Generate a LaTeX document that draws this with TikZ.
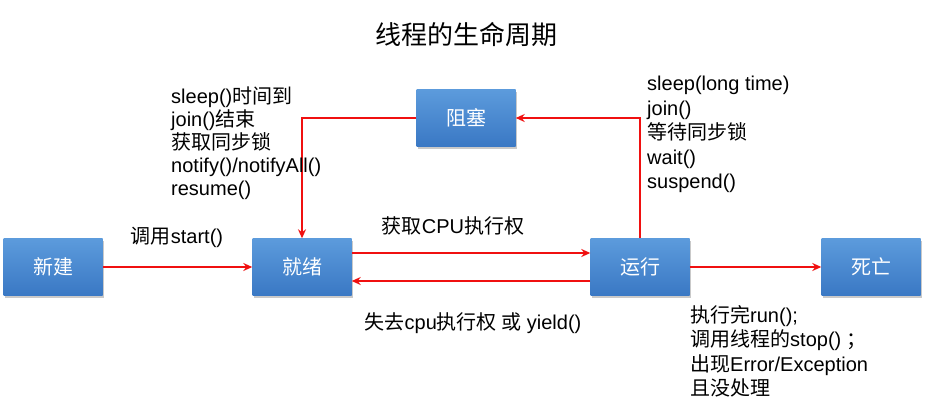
\documentclass[tikz,border=0pt]{standalone}
\usepackage{fontspec}
\setmainfont{Liberation Sans}
\newfontfamily\cjk{Noto Sans CJK SC}
\newcommand{\zh}[1]{{\cjk #1}}
\usetikzlibrary{arrows.meta,shadows}
\definecolor{boxtop}{HTML}{5C9BDC}
\definecolor{boxbot}{HTML}{3A78C4}
\definecolor{arrowred}{HTML}{F01010}
\begin{document}
\begin{tikzpicture}[x=1pt,y=-1pt,
  state/.style={minimum width=99pt,minimum height=57pt,inner sep=0pt,
    top color=boxtop,bottom color=boxbot,draw=none,text=white,
    font=\fontsize{20}{20}\cjk,
    drop shadow={shadow xshift=1.5pt,shadow yshift=-2pt,opacity=0.35,fill=black!60}},
  conn/.style={draw=arrowred,line width=1.6pt,-{Stealth[length=9pt,width=8pt]}},
  lbl/.style={font=\fontsize{20}{24.5}\selectfont,text=black,inner sep=0pt},
  blk/.style={lbl,align=left,anchor=north west}]
\useasboundingbox[fill=white] (0,0) rectangle (934,415);
\node[font=\fontsize{26}{26}\cjk] (title) at (466,35) {线程的生命周期};

\node[state] (new) at (53,267) {新建};
\node[state] (ready) at (302,267) {就绪};
\node[state] (blocked) at (466,118) {阻塞};
\node[state] (run) at (640,267) {运行};
\node[state] (dead) at (871,267) {死亡};

\coordinate (c1) at (640,118);
\coordinate (c2) at (302,118);

\draw[conn] (new) -- (ready);
\draw[conn] (ready.east |- 0,253) -- (run.west |- 0,253);
\draw[conn] (run.west |- 0,281) -- (ready.east |- 0,281);
\draw[conn] (run) -- (dead);
\draw[conn] (run.north) -- (c1) -- (blocked.east);
\draw[conn] (blocked.west) -- (c2) -- (ready.north);

\node[lbl] (lstart) at (177,237) {\zh{调用}start()};
\node[lbl] (lget) at (453,226) {\zh{获取}CPU\zh{执行权}};
\node[lbl] (llose) at (473,323) {\zh{失去}cpu\zh{执行权 或} yield()};

\node[blk,font=\fontsize{20}{23}\selectfont] (lblock) at (171,87)
  {sleep()\zh{时间到}\\join()\zh{结束}\\\zh{获取同步锁}\\notify()/notifyAll()\\resume()};
\node[blk] (rblock) at (647,76)
  {sleep(long time)\\join()\\\zh{等待同步锁}\\wait()\\suspend()};
\node[blk] (dblock) at (690,305)
  {\zh{执行完}run();\\\zh{调用线程的}stop() \zh{；}\\\zh{出现}Error/Exception\\\zh{且没处理}};
\end{tikzpicture}
\end{document}
